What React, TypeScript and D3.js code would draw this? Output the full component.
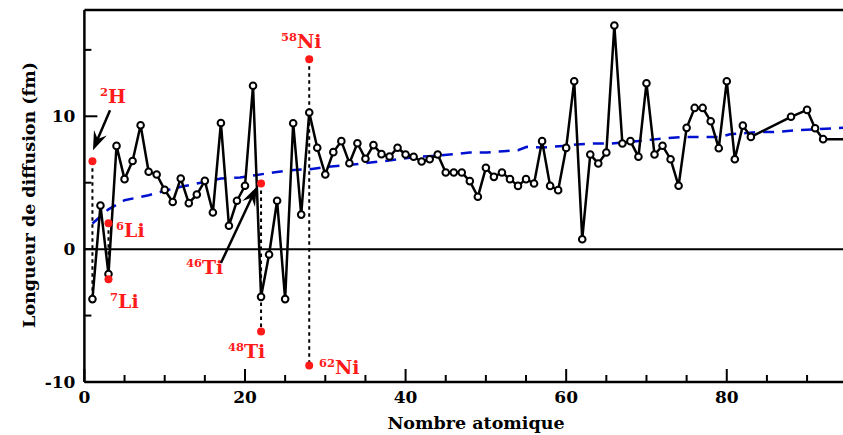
import React from "react";
import * as d3 from "d3";

const atomicNumbers = [
  1, 2, 3, 4, 5, 6, 7, 8, 9, 10, 11, 12, 13, 14, 15, 16, 17, 18, 19, 20,
  21, 22, 23, 24, 25, 26, 27, 28, 29, 30, 31, 32, 33, 34, 35, 36, 37, 38, 39, 40,
  41, 42, 43, 44, 45, 46, 47, 48, 49, 50, 51, 52, 53, 54, 55, 56, 57, 58, 59, 60,
  61, 62, 63, 64, 65, 66, 67, 68, 69, 70, 71, 72, 73, 74, 75, 76, 77, 78, 79, 80,
  81, 82, 83, 88, 90, 91, 92, 95,
];
const scatteringLengths = [
  -3.76, 3.29, -1.88, 7.77, 5.27, 6.64, 9.33, 5.82, 5.62, 4.46, 3.55, 5.32, 3.46, 4.11, 5.14, 2.76, 9.5, 1.76, 3.64, 4.77,
  12.3, -3.59, -0.4, 3.64, -3.76, 9.48, 2.6, 10.28, 7.63, 5.62, 7.3, 8.13, 6.47, 7.97, 6.8, 7.83, 7.15, 6.97, 7.63, 7.12,
  6.95, 6.6, 6.77, 7.12, 5.77, 5.77, 5.77, 5.12, 3.94, 6.12, 5.44, 5.77, 5.27, 4.76, 5.27, 4.94, 8.13, 4.76, 4.44, 7.62,
  12.64, 0.75, 7.12, 6.45, 7.27, 16.83, 7.95, 8.13, 6.95, 12.49, 7.12, 7.78, 6.77, 4.77, 9.13, 10.63, 10.63, 9.63, 7.6, 12.64,
  6.77, 9.3, 8.45, 9.96, 10.48, 9.1, 8.28, 8.28,
];

const potentialZ = [1, 3, 5, 8, 10, 12, 15, 17, 19.4, 21.3, 23.5, 25.6, 28.1, 30.2, 32.7, 34.7, 37.2, 39.7, 41.4, 43.4, 45.5, 48, 50.1, 52.2, 54, 55.1, 57.1, 59.6, 61.3, 63.4, 65.5, 67.9, 70, 72.1, 75, 79.2, 80.4, 83.7, 86.2, 88.7, 91.2, 95];
const potentialValues = [1.93, 3.0, 3.68, 4.06, 4.39, 4.69, 5.06, 5.32, 5.4, 5.57, 5.77, 5.94, 6.02, 6.19, 6.32, 6.45, 6.62, 6.82, 6.95, 7.02, 7.12, 7.27, 7.27, 7.37, 7.45, 7.7, 7.65, 7.77, 7.87, 7.95, 7.95, 8.07, 8.2, 8.33, 8.45, 8.45, 8.65, 8.8, 8.83, 8.95, 9.03, 9.15];

const isotopeNames = ["2H", "6Li", "7Li", "46Ti", "48Ti", "58Ni", "62Ni"];
const isotopeMass = ["2", "6", "7", "46", "48", "58", "62"];
const isotopeSymbol = ["H", "Li", "Li", "Ti", "Ti", "Ni", "Ni"];
const isotopeZ = [1, 3, 3, 22, 22, 28, 28];
const isotopeValues = [6.62, 1.95, -2.26, 4.94, -6.2, 14.3, -8.75];
const isotopeLabelX = [1.94, 3.94, 3.19, 12.65, 17.88, 24.48, 29.21];
const isotopeLabelY = [10.99, 0.9, -4.44, -1.88, -8.2, 15.12, -9.4];

// vertical dotted connectors
const connectorZ = [1, 3, 22, 28];
const connectorTop = [6.62, 1.95, 4.94, 14.3];
const connectorBottom = [-3.76, -2.26, -6.2, -8.75];

// arrows (data units): from -> to
const arrowFromX = [3.19, 17.0];
const arrowFromY = [10.46, -1.05];
const arrowToX = [1.07, 21.46];
const arrowToY = [7.45, 4.69];

const xMajorTicks = [0, 20, 40, 60, 80];
const xMinorTicks = d3.range(5, 95, 5).filter((v) => v % 20 !== 0);
const yMajorTicks = [-10, 0, 10];
const yMinorTicks = [-5, 5, 15];

const W = 843;
const H = 435;
const FONT = "'DejaVu Serif', serif";

export default function App() {
  const x = d3.scaleLinear().domain([0, 94.5]).range([84.4, 843.2]);
  const y = d3.scaleLinear().domain([-10, 18]).range([382, 10]);
  const left = x(0);
  const top = y(18);
  const bottom = y(-10);

  const mainPts = atomicNumbers.map((z, i) => [z, scatteringLengths[i]] as [number, number]);
  const line = d3.line<[number, number]>().x((d) => x(d[0])).y((d) => y(d[1]));
  const potPts = potentialZ.map((z, i) => [z, potentialValues[i]] as [number, number]);

  const arrowHead = (x1: number, y1: number, x2: number, y2: number) => {
    const ang = Math.atan2(y2 - y1, x2 - x1);
    const len = 19;
    const wid = 7;
    const notch = 12;
    const bx = x2 - Math.cos(ang) * len;
    const by = y2 - Math.sin(ang) * len;
    const nx = x2 - Math.cos(ang) * notch;
    const ny = y2 - Math.sin(ang) * notch;
    const px = -Math.sin(ang);
    const py = Math.cos(ang);
    return `M${x2},${y2}L${bx + px * wid},${by + py * wid}L${nx},${ny}L${bx - px * wid},${by - py * wid}Z`;
  };

  return (
    <svg
      width={W}
      height={H}
      style={{ position: "absolute", left: 0, top: 0, background: "#fff", overflow: "hidden" }}
    >
      <rect x={0} y={0} width={W} height={H} fill="#fff" />
      {/* frame */}
      <line x1={left} x2={W + 5} y1={top} y2={top} stroke="#000" strokeWidth={2.5} />
      <line x1={left} x2={W + 5} y1={bottom} y2={bottom} stroke="#000" strokeWidth={2.5} />
      <line x1={left} x2={left} y1={top} y2={bottom} stroke="#000" strokeWidth={2.5} />
      {/* zero line */}
      <line x1={left} x2={W + 5} y1={y(0)} y2={y(0)} stroke="#000" strokeWidth={2} />
      {/* ticks */}
      {xMajorTicks.map((t) => (
        <line key={"xM" + t} x1={x(t)} x2={x(t)} y1={bottom} y2={bottom - 13} stroke="#000" strokeWidth={2} />
      ))}
      {xMinorTicks.map((t) => (
        <line key={"xm" + t} x1={x(t)} x2={x(t)} y1={bottom} y2={bottom - 7} stroke="#000" strokeWidth={2} />
      ))}
      {yMajorTicks.map((t) => (
        <line key={"yM" + t} x1={left} x2={left + 13} y1={y(t)} y2={y(t)} stroke="#000" strokeWidth={2} />
      ))}
      {yMinorTicks.map((t) => (
        <line key={"ym" + t} x1={left} x2={left + 7} y1={y(t)} y2={y(t)} stroke="#000" strokeWidth={2} />
      ))}
      {/* tick labels */}
      {xMajorTicks.map((t) => (
        <text key={"xl" + t} x={x(t)} y={bottom + 21} textAnchor="middle" fontFamily={FONT} fontWeight="bold" fontSize={17}>
          {t}
        </text>
      ))}
      {yMajorTicks.map((t) => (
        <text key={"yl" + t} x={left - 9} y={y(t) + 6} textAnchor="end" fontFamily={FONT} fontWeight="bold" fontSize={17}>
          {t}
        </text>
      ))}
      <text x={476} y={429} textAnchor="middle" fontFamily={FONT} fontWeight="bold" fontSize={17.5}>
        Nombre atomique
      </text>
      <text
        transform={`translate(35,${195}) rotate(-90)`}
        textAnchor="middle"
        fontFamily={FONT}
        fontWeight="bold"
        fontSize={17.5}
      >
        Longueur de diffusion (fm)
      </text>

      {/* potential scattering dashed curve */}
      <path d={line(potPts) || ""} fill="none" stroke="#0010d0" strokeWidth={2.5} strokeDasharray="11,8" />

      {/* connectors */}
      {connectorZ.map((z, i) => (
        <line
          key={"c" + i}
          x1={x(z)}
          x2={x(z)}
          y1={y(connectorTop[i])}
          y2={y(connectorBottom[i])}
          stroke="#000"
          strokeWidth={2}
          strokeDasharray="3.5,3.5"
        />
      ))}

      {/* main series */}
      <path d={line(mainPts) || ""} fill="none" stroke="#000" strokeWidth={2.5} strokeLinejoin="round" />
      {mainPts.map((d, i) => (
        <circle key={"p" + i} cx={x(d[0])} cy={y(d[1])} r={3.3} fill="#fff" stroke="#000" strokeWidth={2} />
      ))}

      {/* isotope points */}
      {isotopeZ.map((z, i) => (
        <circle key={"r" + i} cx={x(z)} cy={y(isotopeValues[i])} r={4} fill="#ff1a1a" />
      ))}
      {/* isotope labels */}
      {isotopeNames.map((n, i) => (
        <text key={"t" + n} x={x(isotopeLabelX[i])} y={y(isotopeLabelY[i])} fill="#ff1a1a" fontFamily={FONT} fontWeight="bold">
          <tspan fontSize={11.5} dy={-7}>{isotopeMass[i]}</tspan>
          <tspan fontSize={19} dy={7}>{isotopeSymbol[i]}</tspan>
        </text>
      ))}
      {/* arrows */}
      {arrowFromX.map((fx, i) => {
        const x1 = x(fx), y1 = y(arrowFromY[i]), x2 = x(arrowToX[i]), y2 = y(arrowToY[i]);
        const ang = Math.atan2(y2 - y1, x2 - x1);
        return (
          <g key={"a" + i}>
            <line x1={x1} y1={y1} x2={x2 - Math.cos(ang) * 11} y2={y2 - Math.sin(ang) * 11} stroke="#000" strokeWidth={2.5} />
            <path d={arrowHead(x1, y1, x2, y2)} fill="#000" />
          </g>
        );
      })}
    </svg>
  );
}
